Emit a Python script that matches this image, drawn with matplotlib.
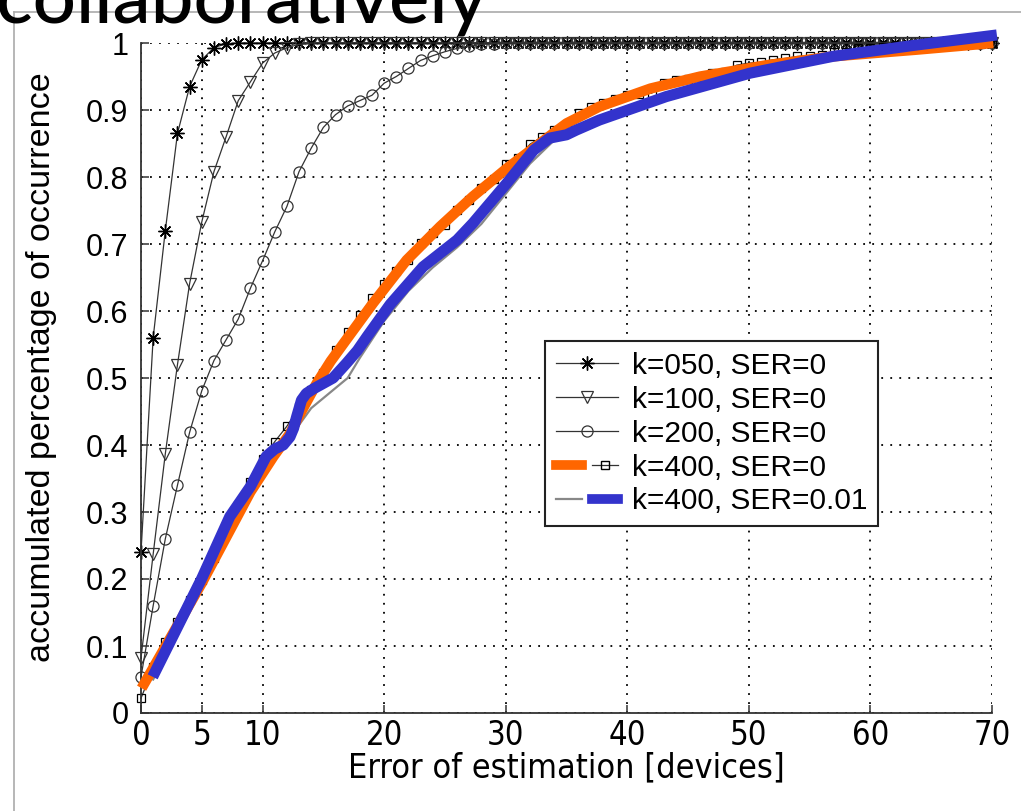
import matplotlib
matplotlib.use("Agg")
import matplotlib.pyplot as plt
import matplotlib.font_manager as fm
from matplotlib.lines import Line2D
from matplotlib.legend_handler import HandlerTuple
import numpy as np

# ---- data ----
err = np.arange(0, 71)  # error of estimation, one sample per device

k050 = [0.24, 0.56, 0.72, 0.865, 0.935, 0.975, 0.993, 0.999] + [1.0] * 63
k100 = [0.082, 0.237, 0.387, 0.52, 0.641, 0.733, 0.808, 0.86, 0.914, 0.942,
        0.97, 0.985, 0.993, 0.998] + [1.0] * 57
k200 = [0.054, 0.16, 0.26, 0.34, 0.419, 0.481, 0.526, 0.557, 0.588, 0.634,
        0.675, 0.718, 0.756, 0.808, 0.843, 0.874, 0.893, 0.906, 0.914, 0.922,
        0.940, 0.950, 0.962, 0.974, 0.981, 0.987, 0.992, 0.995, 0.998, 0.999] + [1.0] * 41
k400 = [0.022, 0.068, 0.106, 0.136, 0.169, 0.199, 0.231, 0.270, 0.310, 0.345,
        0.379, 0.405, 0.428, 0.456, 0.482, 0.508, 0.542, 0.569, 0.594, 0.620,
        0.640, 0.659, 0.676, 0.702, 0.717, 0.728, 0.751, 0.766, 0.783, 0.797,
        0.819, 0.829, 0.849, 0.860, 0.870, 0.875, 0.895, 0.905, 0.910, 0.917,
        0.922, 0.924, 0.925, 0.940, 0.945, 0.947, 0.950, 0.955, 0.957, 0.967,
        0.970, 0.971, 0.975, 0.977, 0.980, 0.981, 0.982, 0.986, 0.987, 0.992,
        0.993, 0.994, 0.995, 0.996, 0.997, 0.997, 0.998, 0.998, 0.999, 0.999, 1.0]

# k=400, SER=0.01 thin line
ser_x = [1, 5, 8, 10, 12, 13, 14, 15, 16, 17, 18, 20, 22, 24, 26, 28, 30, 32,
         34, 36, 40, 45, 50, 55, 60, 65, 70]
ser_y = [0.05, 0.195, 0.31, 0.37, 0.40, 0.43, 0.455, 0.47, 0.485, 0.50, 0.53,
         0.585, 0.63, 0.665, 0.695, 0.73, 0.775, 0.82, 0.855, 0.875, 0.905,
         0.935, 0.955, 0.972, 0.985, 0.993, 1.0]

# hand drawn overlays (orange / blue)
orange_x = [0.05, 5, 9.0, 10.9, 12.25, 13.1, 14.45, 15.6, 16.8, 19.1, 21.85,
            24.6, 27.3, 30.1, 32.8, 35, 37.7, 41.9, 46, 51.5, 56.9, 63.8, 70.1]
orange_y = [0.037, 0.194, 0.330, 0.383, 0.417, 0.447, 0.492, 0.525, 0.555,
            0.612, 0.676, 0.726, 0.771, 0.813, 0.85, 0.88, 0.905, 0.932, 0.95,
            0.967, 0.98, 0.99, 1.0]
blue_x = [0.96, 5, 7.3, 9.0, 10.3, 11.0, 11.7, 12.25, 12.55, 12.8, 13.2, 13.6,
          14.2, 15.0, 15.8, 16.9, 17.8, 18.6, 20.5, 23.2, 26, 27.3, 30.1, 32.3,
          33.6, 35, 35.8, 37.7, 43.2, 50.1, 56.9, 63.8, 70.4]
blue_y = [0.054, 0.201, 0.293, 0.338, 0.383, 0.394, 0.400, 0.412, 0.425, 0.442,
          0.467, 0.477, 0.484, 0.492, 0.500, 0.522, 0.541, 0.562, 0.610, 0.666,
          0.706, 0.731, 0.791, 0.840, 0.858, 0.863, 0.870, 0.885, 0.920, 0.955,
          0.98, 0.997, 1.012]

labels = ["k=050, SER=0", "k=100, SER=0", "k=200, SER=0",
          "k=400, SER=0", "k=400, SER=0.01"]
xticks = [0, 5, 10, 20, 30, 40, 50, 60, 70]
yticks = [0, 0.1, 0.2, 0.3, 0.4, 0.5, 0.6, 0.7, 0.8, 0.9, 1]

ORANGE = "#FF6600"
BLUE = "#3333CC"
LINE = "#333333"

plt.rcParams["font.family"] = ["Liberation Sans", "DejaVu Sans"]


def narrow_font():
    # the x axis text in the picture is squeezed, look for a condensed face
    for fam in ["Liberation Sans Narrow", "Arial Narrow"]:
        try:
            fm.findfont(fm.FontProperties(family=fam), fallback_to_default=False)
            return dict(family=fam)
        except ValueError:
            pass
    f = fm.findfont(fm.FontProperties(family="DejaVu Sans", stretch="condensed"))
    if "Condensed" in f:
        return dict(family="DejaVu Sans", stretch="condensed")
    return dict(family="Liberation Sans")


narrow = narrow_font()

fig = plt.figure(figsize=(10.21, 8.11), dpi=100)
ax = fig.add_axes([141 / 1021, 1 - 713 / 811, 851 / 1021, 670 / 811])

asterisk = (8, 2, 0)
l1, = ax.plot(err, k050, color=LINE, lw=0.9, marker=asterisk, ms=10, mew=1.0,
              mec="black", clip_on=False)
l2, = ax.plot(err, k100, color=LINE, lw=0.9, marker="v", ms=8, mew=0.9,
              mfc="none", mec="#333333", clip_on=False)
l3, = ax.plot(err, k200, color=LINE, lw=0.9, marker="o", ms=8, mew=0.9,
              mfc="none", mec="#333333", clip_on=False)
l4, = ax.plot(err, k400, color=LINE, lw=0.9, marker="s", ms=5.5, mew=0.9,
              mfc="none", mec="black", clip_on=False)
l5, = ax.plot(ser_x, ser_y, color="#888888", lw=1.6, clip_on=False)

ax.plot(orange_x, orange_y, color=ORANGE, lw=7.5, solid_capstyle="butt",
        solid_joinstyle="round", clip_on=False, zorder=4)
ax.plot(blue_x, blue_y, color=BLUE, lw=8, solid_capstyle="butt",
        solid_joinstyle="round", clip_on=False, zorder=5)

ax.set_xlim(0, 70)
ax.set_ylim(0, 1)
ax.set_xticks(xticks)
ax.set_xticklabels([str(t) for t in xticks], fontsize=23.5, **narrow)
ax.set_yticks(yticks)
ax.set_yticklabels(["0", "0.1", "0.2", "0.3", "0.4", "0.5", "0.6", "0.7",
                    "0.8", "0.9", "1"], fontsize=22)
ax.tick_params(direction="in", length=6, width=1.1, color=LINE)
ax.tick_params(axis="y", pad=9)
ax.tick_params(axis="x", pad=4)

ax.grid(True, linestyle=(0, (1, 4)), color="black", lw=1.3)
for s in ["top", "right"]:
    ax.spines[s].set_visible(False)
for s in ["left", "bottom"]:
    ax.spines[s].set_color(LINE)
    ax.spines[s].set_linewidth(1.3)

ax.set_xlabel("Error of estimation [devices]", fontsize=24.5, labelpad=0, **narrow)
ax.set_ylabel("accumulated percentage of occurrence", fontsize=24.5)
ax.yaxis.set_label_coords(-0.099, 0.516)

# legend handles, orange / blue overlays shown like the slide
h4 = (Line2D([], [], color=ORANGE, lw=7), Line2D([], [], color=LINE, lw=0.9,
      marker="s", ms=5.5, mfc="none", mec="black"))
h5 = (Line2D([], [], color="#888888", lw=1.6), Line2D([], [], color=BLUE, lw=7))
leg = ax.legend([l1, l2, l3, h4, h5], labels, loc="upper left",
                bbox_to_anchor=(0.475, 0.555), fontsize=21.5, frameon=True,
                fancybox=False, framealpha=1, edgecolor="#222222",
                handlelength=2.1, handletextpad=0.45, labelspacing=0.2,
                borderpad=0.35, borderaxespad=0,
                handler_map={tuple: HandlerTuple(ndivide=None)})
leg.get_frame().set_linewidth(1.5)
leg.set_zorder(10)

# slide frame and the cut-off title above it
fig.add_artist(Line2D([14 / 1021, 14 / 1021], [0, 1 - 12 / 811],
                      transform=fig.transFigure, color="#aaaaaa", lw=1.2))
fig.add_artist(Line2D([14 / 1021, 1], [1 - 12 / 811, 1 - 12 / 811],
                      transform=fig.transFigure, color="#aaaaaa", lw=1.2))
fig.text(-4 / 1021, 1 - 22 / 811, "collaboratively", fontsize=55,
         family=["Lato", "DejaVu Sans"], weight="medium",
         va="baseline", ha="left")

fig.savefig("out.png", dpi=100)
